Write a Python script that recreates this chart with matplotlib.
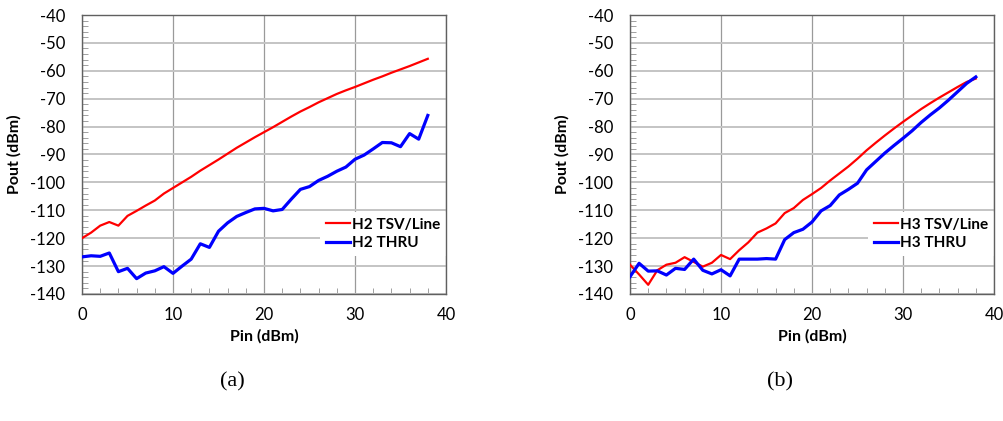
import numpy as np
import matplotlib
matplotlib.use('Agg')
import matplotlib.pyplot as plt
from matplotlib.ticker import MultipleLocator

plt.rcParams['font.family'] = ['Lato', 'DejaVu Sans']
plt.rcParams['axes.unicode_minus'] = False

# Pin sweep (dBm)
pin = list(range(0, 39))

# panel (a): second harmonic
h2_tsv = [-120, -118, -115.5, -114.2, -115.5, -112, -110.2, -108.3, -106.5, -104,
          -102, -100, -98, -95.8, -93.8, -91.8, -89.7, -87.6, -85.7, -83.8,
          -82, -80.2, -78.3, -76.4, -74.6, -73, -71.3, -69.8, -68.3, -67,
          -65.8, -64.5, -63.2, -62, -60.7, -59.5, -58.3, -57, -55.7]
h2_thru = [-126.7, -126.3, -126.5, -125.3, -132, -130.8, -134.5, -132.5, -131.7, -130.2,
           -132.6, -130, -127.5, -122, -123.3, -117.5, -114.5, -112.2, -110.8, -109.5,
           -109.3, -110.2, -109.7, -106, -102.5, -101.5, -99.3, -97.8, -96, -94.5,
           -91.7, -90.2, -88, -85.7, -85.8, -87.2, -82.5, -84.5, -76]

# panel (b): third harmonic
h3_tsv = [-129.5, -133, -136.7, -131.5, -129.5, -128.8, -126.8, -128.5, -130.2, -128.8,
          -126, -127.5, -124.3, -121.5, -118, -116.5, -114.7, -111, -109.2, -106.3,
          -104.2, -102, -99.3, -96.8, -94.3, -91.5, -88.5, -85.8, -83.2, -80.7,
          -78.3, -76, -73.7, -71.6, -69.6, -67.7, -65.8, -64, -62.8]
h3_thru = [-133.8, -129, -131.8, -131.7, -133.2, -130.8, -131.2, -127.5, -131.5, -132.8,
           -131.3, -133.5, -127.5, -127.5, -127.5, -127.3, -127.5, -120.5, -118, -116.8,
           -114.2, -110.2, -108.3, -104.5, -102.5, -100.3, -95.5, -92.5, -89.5, -86.8,
           -84.2, -81.5, -78.5, -75.8, -73.3, -70.5, -67.5, -64.5, -62.2]

panels = [
    ('(a)', 'H2', h2_tsv, h2_thru),
    ('(b)', 'H3', h3_tsv, h3_thru),
]

fig = plt.figure(figsize=(10.04, 4.21), dpi=100)
lefts = [82 / 1004, 630 / 1004]

for left, (tag, name, tsv, thru) in zip(lefts, panels):
    ax = fig.add_axes([left, 1 - 294 / 421, 364 / 1004, 279 / 421])
    ax.set_xlim(0, 40)
    ax.set_ylim(-140, -40)
    ax.xaxis.set_major_locator(MultipleLocator(10))
    ax.yaxis.set_major_locator(MultipleLocator(10))
    ax.xaxis.set_minor_locator(MultipleLocator(2))
    ax.yaxis.set_minor_locator(MultipleLocator(2))
    ax.grid(True, axis='x', which='major', color='#9a9a9a', lw=0.9)
    ax.grid(True, axis='y', which='major', color='#c4c4c4', lw=1.4)
    ax.set_axisbelow(True)
    ax.tick_params(which='both', direction='in', length=4, color='#909090',
                   labelsize=12, labelcolor='black')
    ax.tick_params(which='major', length=0)
    ax.tick_params(axis='y', which='major', pad=12)
    ax.tick_params(axis='x', which='major', pad=9)
    for s in ax.spines.values():
        s.set_color('#606060')
        s.set_linewidth(1.0)

    ax.plot(pin, tsv, color='#ff0000', lw=1.6, label=f'{name} TSV/Line', zorder=3)
    ax.plot(pin, thru, color='#0000ff', lw=2.3, label=f'{name} THRU', zorder=3)

    ax.set_xlabel('Pin (dBm)', fontsize=11.5, fontweight='bold', labelpad=5)
    ax.set_ylabel('Pout (dBm)', fontsize=11.5, fontweight='bold', labelpad=6)

    leg = ax.legend(loc='lower right', bbox_to_anchor=(1.0, 0.135),
                    prop={'weight': 'bold', 'size': 11}, frameon=True,
                    handlelength=1.6, handletextpad=0.1, labelspacing=0.3,
                    borderpad=0.4, borderaxespad=0.0, fancybox=False)
    leg.get_frame().set_facecolor('white')
    leg.get_frame().set_edgecolor('none')
    leg.get_frame().set_alpha(1.0)
    leg.set_zorder(2)

    ax.text(0.412, -0.28, tag, transform=ax.transAxes, ha='center', va='top',
            fontsize=16, family='Liberation Serif')

fig.savefig('out.png', dpi=100)
